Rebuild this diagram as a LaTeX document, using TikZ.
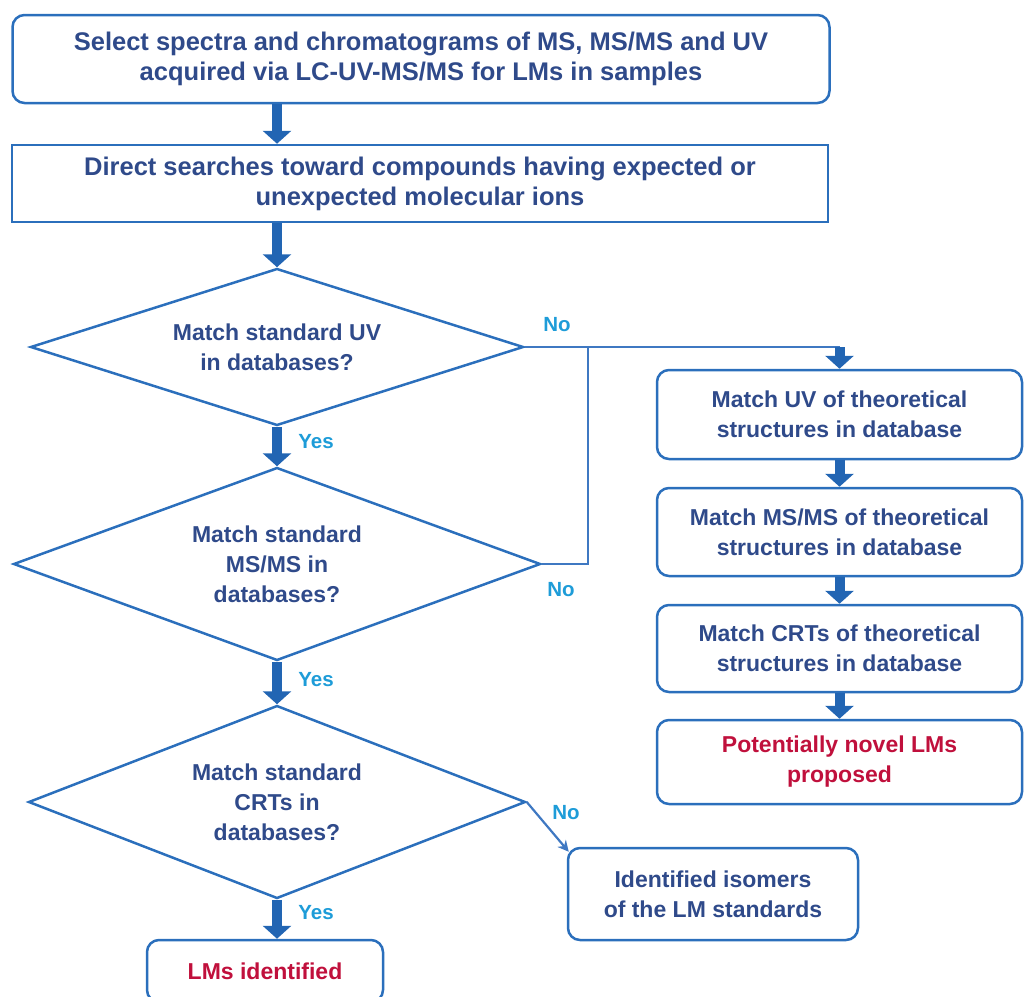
\documentclass[tikz,border=0pt]{standalone}
\usepackage{fontspec}
\setmainfont{Liberation Sans}
\usetikzlibrary{shapes.geometric,arrows.meta,calc}

\definecolor{frameblue}{HTML}{2B6FBC}
\definecolor{arrowblue}{HTML}{2265B3}
\definecolor{linkblue}{HTML}{3F78C2}
\definecolor{textnavy}{HTML}{2F4A8A}
\definecolor{labelcyan}{HTML}{1E9CD8}
\definecolor{resultred}{HTML}{C0103C}

\begin{document}
\begin{tikzpicture}[x=1pt,y=-1pt,
    box/.style={draw=frameblue,line width=2.5pt,rounded corners=12pt,align=center,
      text=textnavy,font=\bfseries\fontsize{23}{30}\selectfont,inner sep=0pt},
    widebox/.style={box,font=\bfseries\fontsize{25.5}{30}\selectfont},
    sqbox/.style={widebox,rounded corners=0pt},
    dbox/.style={box,diamond,rounded corners=0pt,aspect=3},
    blockarrow/.style={draw=arrowblue,line width=10pt,-{Triangle[width=28pt,length=13pt]}},
    link/.style={draw=linkblue,line width=2.2pt},
    thinarrow/.style={link,-{Stealth[width=11pt,length=11pt]}},
    lbl/.style={text=labelcyan,font=\bfseries\fontsize{20.5}{24}\selectfont,inner sep=0pt}]
    \useasboundingbox (0,0) rectangle (1024,996);
    % left column
    \node[widebox,minimum width=817,minimum height=88] (select) at (421,59)
      {Select spectra and chromatograms of MS, MS/MS and UV\\acquired via LC-UV-MS/MS for LMs in samples};
    \node[sqbox,minimum width=816,minimum height=77] (search) at (420,183.5)
      {Direct searches toward compounds having expected or\\unexpected molecular ions};
    \node[dbox,minimum width=493,minimum height=157] (uvq) at (277,347)
      {Match standard UV\\in databases?};
    \node[dbox,minimum width=527,minimum height=193] (msq) at (277,564)
      {Match standard\\MS/MS in\\databases?};
    \node[dbox,minimum width=497,minimum height=193] (crtq) at (277,802)
      {Match standard\\CRTs in\\databases?};
    \node[box,text=resultred,minimum width=236,minimum height=62] (lms) at (265,971)
      {LMs identified};
    % right column
    \node[box,minimum width=365,minimum height=89] (uvt) at (839.5,414.5)
      {Match UV of theoretical\\structures in database};
    \node[box,minimum width=365,minimum height=88] (mst) at (839.5,532)
      {Match MS/MS of theoretical\\structures in database};
    \node[box,minimum width=365,minimum height=87] (crtt) at (839.5,648.5)
      {Match CRTs of theoretical\\structures in database};
    \node[box,text=resultred,minimum width=365,minimum height=84] (novel) at (839.5,762)
      {Potentially novel LMs\\proposed};
    \node[box,minimum width=290,minimum height=92] (iso) at (713,894)
      {Identified isomers\\of the LM standards};
    \coordinate (join) at (588,347);

    % main flow
    \draw[blockarrow] (uvq.north |- select.south) -- (uvq.north |- search.north);
    \draw[blockarrow] (uvq.north |- search.south) -- (uvq.north);
    \draw[blockarrow] (uvq.south) -- (msq.north);
    \draw[blockarrow] (msq.south) -- (crtq.north);
    \draw[blockarrow] (crtq.south) -- (crtq.south |- lms.north);
    % no branches
    \draw[link] (uvq.east) -- (uvq.east -| uvt.north);
    \draw[link] (msq.east) -| (join);
    \draw[blockarrow] (uvq.east -| uvt.north) -- (uvt.north);
    \draw[blockarrow] (uvt.south) -- (mst.north);
    \draw[blockarrow] (mst.south) -- (crtt.north);
    \draw[blockarrow] (crtt.south) -- (novel.north);
    \draw[thinarrow] (crtq.east) -- ([shift={(2,5)}]iso.north west);

    % labels
    \node[lbl] (no1) at (557,325) {No};
    \node[lbl] (yes1) at (316,442) {Yes};
    \node[lbl] (no2) at (561,590) {No};
    \node[lbl] (yes2) at (316,680) {Yes};
    \node[lbl] (no3) at (566,813) {No};
    \node[lbl] (yes3) at (316,913) {Yes};
\end{tikzpicture}
\end{document}
